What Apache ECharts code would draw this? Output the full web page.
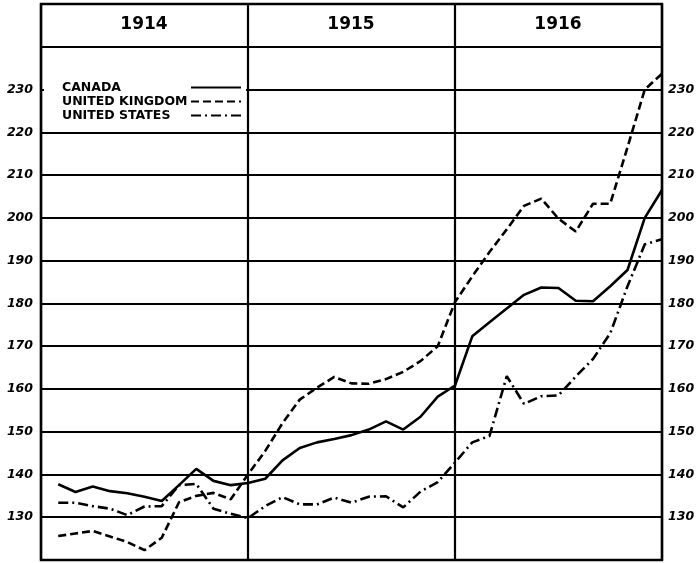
<!DOCTYPE html>
<html>
<head>
<meta charset="utf-8">
<script src="https://cdn.jsdelivr.net/npm/echarts@6/dist/echarts.min.js"></script>
<style>html,body{margin:0;padding:0;background:#fff;}#c{width:700px;height:563px;}</style>
</head>
<body>
<div id="c"></div>
<script>
// Years (header) and monthly index values, Jan 1914 .. Dec 1916
var years = ['1914', '1915', '1916'];
var seriesNames = ['CANADA', 'UNITED KINGDOM', 'UNITED STATES'];
var canada = [
  137.7, 135.9, 137.2, 136.1, 135.6, 134.8, 133.8, 137.5, 141.3, 138.5, 137.5, 138.0,
  139.0, 143.3, 146.2, 147.5, 148.3, 149.2, 150.5, 152.4, 150.5, 153.5, 158.2, 160.8,
  172.3, 175.6, 178.8, 182.0, 183.7, 183.6, 180.6, 180.5, 184.0, 187.8, 200.0, 206.5
];
var unitedKingdom = [
  125.6, 126.2, 126.8, 125.5, 124.2, 122.3, 125.2, 133.5, 135.0, 135.7, 134.2, 140.0,
  145.5, 152.0, 157.5, 160.3, 162.8, 161.3, 161.2, 162.3, 164.0, 166.5, 170.0, 180.3,
  186.3, 192.0, 197.3, 202.8, 204.5, 199.8, 196.8, 203.3, 203.3, 216.5, 230.0, 233.7
];
var unitedStates = [
  133.4, 133.4, 132.6, 132.0, 130.5, 132.5, 132.6, 137.5, 137.8, 132.0, 130.8, 129.8,
  132.6, 134.7, 133.0, 133.0, 134.6, 133.4, 134.8, 134.9, 132.3, 136.0, 138.2, 142.8,
  147.5, 149.0, 163.0, 156.5, 158.3, 158.5, 162.9, 167.0, 173.0, 184.0, 193.8, 195.0
];
var yMin = 120, yMax = 250, yStep = 10;
var labelMin = 130, labelMax = 230;
var headerValue = 245;

function toPoints(arr) {
  return arr.map(function (v, i) { return [i + 1, v]; });
}
var headerData = years.map(function (y, i) { return [i * 12 + 6, headerValue, y]; });

var FONT = '"DejaVu Sans", sans-serif';
function yLabel(v) { return (v >= labelMin && v <= labelMax) ? String(v) : ''; }

var chart = echarts.init(document.getElementById('c'), null, { renderer: 'canvas' });
chart.setOption({
  animation: false,
  backgroundColor: '#fff',
  grid: {
    left: 41, right: 38, top: 4, bottom: 3,
    show: true, borderColor: '#000', borderWidth: 2.5, backgroundColor: 'transparent'
  },
  legend: {
    data: seriesNames,
    orient: 'vertical',
    align: 'right',
    left: 44, top: 78,
    padding: [3, 4, 3, 18],
    backgroundColor: '#fff',
    itemWidth: 50, itemHeight: 10, itemGap: 1,
    selectedMode: false,
    itemStyle: { opacity: 0, color: 'transparent', borderWidth: 0 },
    formatter: '{t|{name}}',
    textStyle: {
      color: '#000',
      rich: {
        t: { width: 124, align: 'left', fontSize: 12.5, fontWeight: 'bold', fontFamily: FONT, color: '#000', lineHeight: 14 }
      }
    }
  },
  xAxis: {
    type: 'value', min: 0, max: 36, interval: 12,
    axisLine: { show: false }, axisTick: { show: false }, axisLabel: { show: false },
    splitLine: { show: true, lineStyle: { color: '#000', width: 2.2 } }
  },
  yAxis: [{
    type: 'value', min: yMin, max: yMax, interval: yStep, position: 'left',
    axisLine: { show: false }, axisTick: { show: false },
    axisLabel: { formatter: yLabel, margin: 8, color: '#000', fontSize: 12.5, fontWeight: 'bold', fontStyle: 'italic', fontFamily: FONT },
    splitLine: { show: true, lineStyle: { color: '#000', width: 2 } }
  }, {
    type: 'value', min: yMin, max: yMax, interval: yStep, position: 'right',
    axisLine: { show: false }, axisTick: { show: false },
    axisLabel: { formatter: yLabel, margin: 6, color: '#000', fontSize: 12.5, fontWeight: 'bold', fontStyle: 'italic', fontFamily: FONT },
    splitLine: { show: false }
  }],
  series: [{
    name: seriesNames[0], type: 'line', data: toPoints(canada), symbol: 'none',
    lineStyle: { color: '#000', width: 2.6, type: 'solid' }, itemStyle: { color: '#000' },
    emphasis: { disabled: true }, z: 5
  }, {
    name: seriesNames[1], type: 'line', data: toPoints(unitedKingdom), symbol: 'none',
    lineStyle: { color: '#000', width: 2.6, type: [8, 4] }, itemStyle: { color: '#000' },
    emphasis: { disabled: true }, z: 5
  }, {
    name: seriesNames[2], type: 'line', data: toPoints(unitedStates), symbol: 'none',
    lineStyle: { color: '#000', width: 2.6, type: [10, 4, 2, 4] }, itemStyle: { color: '#000' },
    emphasis: { disabled: true }, z: 5
  }, {
    name: 'years', type: 'scatter', data: headerData, symbolSize: 1, silent: true,
    itemStyle: { color: '#fff', opacity: 1 },
    label: {
      show: true, position: [0, 0], align: 'center', verticalAlign: 'middle',
      color: '#000', fontSize: 17, fontWeight: 'bold', fontFamily: FONT, opacity: 1,
      formatter: function (p) { return p.value[2]; }
    }
  }]
});
</script>
</body>
</html>
